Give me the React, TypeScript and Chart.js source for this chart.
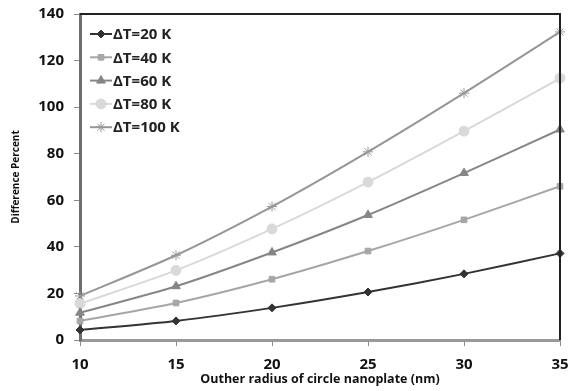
import React, { useEffect, useRef } from "react";
import { Chart, registerables } from "chart.js";
import { drawPoint } from "chart.js/helpers";

Chart.register(...registerables);

const radii = ["10", "15", "20", "25", "30", "35"];
const dT20 = [4.3, 8.2, 13.8, 20.6, 28.4, 37.2];
const dT40 = [8.2, 15.9, 26.1, 38.2, 51.6, 66];
const dT60 = [11.7, 23.1, 37.6, 53.7, 71.7, 90.4];
const dT80 = [15.6, 29.9, 47.7, 67.8, 89.7, 112.4];
const dT100 = [18.9, 36.4, 57.3, 80.8, 106, 132.3];
const seriesLabels = ["ΔT=20 K", "ΔT=40 K", "ΔT=60 K", "ΔT=80 K", "ΔT=100 K"];
const yTicks = [0, 20, 40, 60, 80, 100, 120, 140];

const FONT = "'Open Sans', 'DejaVu Sans', sans-serif";

export default function App() {
  const ref = useRef<HTMLCanvasElement>(null);
  useEffect(() => {
    if (!ref.current) return;
    const colors = ["#333333", "#a6a6a6", "#868686", "#d9d9d9", "#969696"];
    const styles: any[] = ["rectRot", "rect", "triangle", "circle", "star"];
    const radiusArr = [4, 4, 5, 5, 5];
    const data = [dT20, dT40, dT60, dT80, dT100];

    const legendPlugin = {
      id: "insideLegend",
      afterDraw(chart: any) {
        const ctx = chart.ctx;
        const { top, right, left, bottom } = chart.chartArea;
        ctx.save();
        ctx.strokeStyle = "#222";
        ctx.lineWidth = 2;
        ctx.beginPath();
        ctx.moveTo(left, top);
        ctx.lineTo(right, top);
        ctx.lineTo(right, bottom);
        ctx.stroke();
        chart.data.datasets.forEach((ds: any, i: number) => {
          const y = 34 + i * 23.3;
          const x0 = 90;
          ctx.strokeStyle = ds.borderColor;
          ctx.lineWidth = 2;
          ctx.beginPath();
          ctx.moveTo(x0, y);
          ctx.lineTo(x0 + 22, y);
          ctx.stroke();
          ctx.fillStyle = ds.pointBackgroundColor;
          ctx.strokeStyle = ds.pointBorderColor;
          ctx.lineWidth = 1;
          drawPoint(ctx, { pointStyle: ds.pointStyle, radius: ds.pointRadius, rotation: 0, borderWidth: 1 } as any, x0 + 11, y);
          ctx.fillStyle = "#222";
          ctx.font = `bold 15px ${FONT}`;
          ctx.textBaseline = "middle";
          ctx.textAlign = "left";
          ctx.fillText(ds.label, x0 + 23, y + 1);
        });
        ctx.restore();
      },
    };

    const chart = new Chart(ref.current, {
      type: "line",
      data: {
        labels: radii,
        datasets: data.map((d, i) => ({
          label: seriesLabels[i],
          data: d,
          borderColor: colors[i],
          backgroundColor: colors[i],
          pointBackgroundColor: colors[i],
          pointBorderColor: colors[i],
          pointStyle: styles[i],
          pointRadius: radiusArr[i],
          pointBorderWidth: 1,
          borderWidth: 2,
          tension: 0.25,
          fill: false,
        })),
      },
      options: {
        animation: false,
        responsive: false,
        layout: { padding: { top: 14, right: 9, left: 0, bottom: 0 } },
        plugins: {
          legend: { display: false },
          tooltip: { enabled: false },
        },
        scales: {
          x: {
            offset: false,
            grid: { drawOnChartArea: false, tickLength: 6, color: "#888" },
            border: { color: "#999999", width: 3 },
            ticks: { color: "#111", font: { family: FONT, size: 15, weight: "bold" }, padding: 10 },
            title: {
              display: true,
              text: "Outher radius of circle nanoplate (nm)",
              color: "#111",
              font: { family: FONT, size: 12.5, weight: "bold" },
              padding: { top: 2 },
            },
            afterFit(scale: any) {
              scale.height = 51;
              scale.paddingLeft = 0;
              scale.paddingRight = 0;
            },
          },
          y: {
            min: 0,
            max: 140,
            afterBuildTicks(scale: any) {
              scale.ticks = yTicks.map((v) => ({ value: v }));
            },
            grid: { drawOnChartArea: false, tickLength: 6, color: "#888" },
            border: { color: "#6e6e6e", width: 3 },
            ticks: { color: "#111", font: { family: FONT, size: 15, weight: "bold" }, padding: 10 },
            title: {
              display: true,
              text: "Difference Percent",
              color: "#111",
              font: { family: FONT, size: 10, weight: "bold" },
              padding: { top: 10, bottom: 0 },
            },
            afterFit(scale: any) {
              scale.width = 80;
              scale.paddingTop = 0;
              scale.paddingBottom = 0;
            },
          },
        },
      },
      plugins: [legendPlugin],
    });

    return () => chart.destroy();
  }, []);

  return (
    <div style={{ position: "fixed", left: 0, top: 0, width: 569, height: 391, background: "#fff" }}>
      <canvas ref={ref} width={569} height={391} />
    </div>
  );
}
